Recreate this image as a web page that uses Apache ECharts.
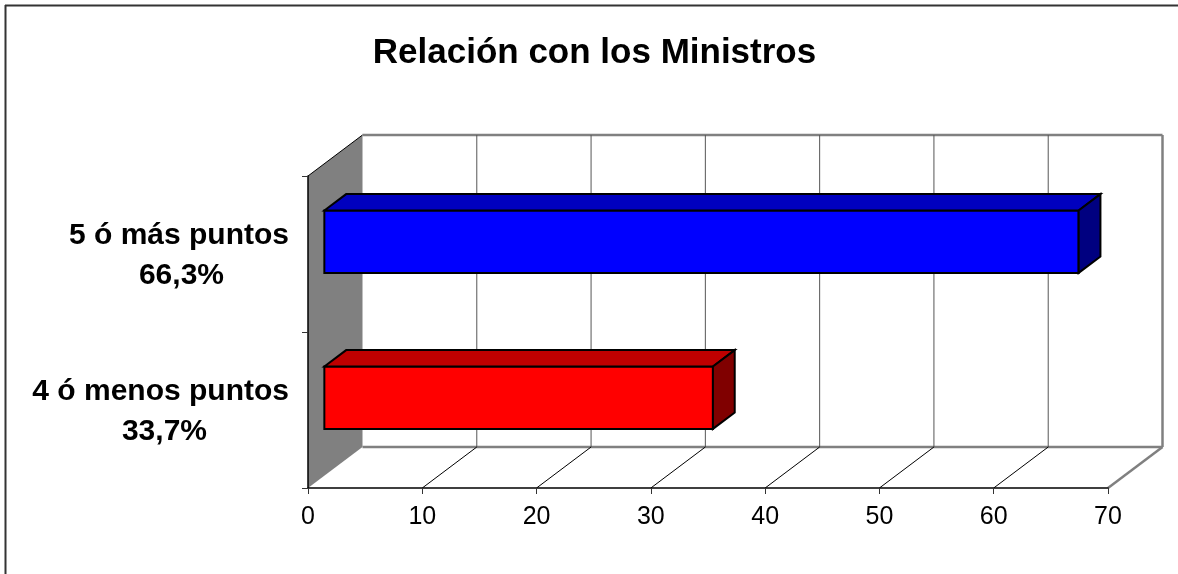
<!DOCTYPE html>
<html>
<head>
<meta charset="utf-8">
<style>html,body{margin:0;padding:0;background:#fff}#c{width:1178px;height:574px}</style>
<script src="https://cdn.jsdelivr.net/npm/echarts@6/dist/echarts.min.js"></script>
</head>
<body>
<div id="c"></div>
<script>
var categories = ['4 ó menos puntos', '5 ó más puntos'];
var shareLabels = ['33,7%', '66,3%'];
var values = [34, 66];
var faceColors = ['#ff0000', '#0000ff'];
var topColors = ['#bf0000', '#0000bf'];
var sideColors = ['#800000', '#000080'];
var xTicks = [0, 10, 20, 30, 40, 50, 60, 70];
var titleText = 'Relación con los Ministros';

var DX = 54.5, DY = -41;
var FONT = '"Liberation Sans", Arial, sans-serif';

var chart = echarts.init(document.getElementById('c'), null, {renderer: 'canvas'});

function line(x1, y1, x2, y2, color, width) {
  return {type: 'line', shape: {x1: x1, y1: y1, x2: x2, y2: y2},
    style: {stroke: color, lineWidth: width, fill: null}};
}
function poly(points, fill, stroke, width) {
  return {type: 'polygon', shape: {points: points},
    style: {fill: fill, stroke: stroke || null, lineWidth: width || 0, lineJoin: 'miter'}};
}

function renderBox(params, api) {
  var i = api.value(0);
  var v = api.value(1);
  var a = api.coord([0, i]);
  var b = api.coord([v, i]);
  var band = api.size([0, 1])[1];
  var h = band * 0.4;
  var f1 = 0.3, f2 = 0.7;
  var x0 = a[0] + DX * f1, x1 = b[0] + DX * f1;
  var y0 = a[1] + DY * f1 - h / 2, y1 = y0 + h;
  var ox = DX * (f2 - f1), oy = DY * (f2 - f1);
  var lw = 2;
  return {type: 'group', children: [
    poly([[x0, y0], [x1, y0], [x1, y1], [x0, y1]], faceColors[i], '#000', lw),
    poly([[x0, y0], [x0 + ox, y0 + oy], [x1 + ox, y0 + oy], [x1, y0]], topColors[i], '#000', lw),
    poly([[x1, y0], [x1 + ox, y0 + oy], [x1 + ox, y1 + oy], [x1, y1]], sideColors[i], '#000', lw)
  ]};
}

function renderWalls(params, api) {
  var zero = api.coord([0, 0]);
  var end = api.coord([70, 0]);
  var band = api.size([0, 1])[1];
  var bottom = zero[1] + band / 2;
  var top = bottom - band * 2;
  var l = zero[0], r = end[0];
  var kids = [
    poly([[l, bottom], [l + DX, bottom + DY], [l + DX, top + DY], [l, top]], '#808080'),
    line(l, top, l + DX, top + DY, '#000', 1),
    line(l + DX, top + DY, r + DX, top + DY, '#808080', 2.5),
    line(r + DX, top + DY, r + DX, bottom + DY, '#808080', 2.5),
    line(l + DX, bottom + DY, r + DX, bottom + DY, '#808080', 2.5),
    line(r, bottom, r + DX, bottom + DY, '#808080', 2.5)
  ];
  xTicks.slice(1, -1).forEach(function (t) {
    var p = api.coord([t, 0])[0];
    kids.push(line(p + DX, top + DY, p + DX, bottom + DY, '#555', 1));
    kids.push(line(p, bottom, p + DX, bottom + DY, '#000', 1));
  });
  return {type: 'group', children: kids};
}

function catLabel(value, idx) {
  return '{n|' + value + '}\n{p' + idx + '|' + shareLabels[idx] + '}';
}
var labelBase = {fontFamily: FONT, fontSize: 30, fontWeight: 'bold', color: '#000', lineHeight: 40, align: 'right'};

chart.setOption({
  animation: false,
  backgroundColor: '#fff',
  title: {text: titleText, left: 594.5, top: 36, padding: 0, textAlign: 'center',
    textStyle: {fontFamily: FONT, fontSize: 35, fontWeight: 'bold', color: '#000'}},
  graphic: [
    {type: 'line', shape: {x1: 5, y1: 5.5, x2: 1178, y2: 5.5}, style: {stroke: '#333', lineWidth: 2}},
    {type: 'line', shape: {x1: 5.5, y1: 5, x2: 5.5, y2: 574}, style: {stroke: '#333', lineWidth: 2}}
  ],
  grid: {left: 308, top: 176, width: 800, height: 312},
  xAxis: {type: 'value', min: 0, max: 70, interval: 10, z: 5,
    axisLine: {show: true, lineStyle: {color: '#000', width: 1.5}},
    axisTick: {show: true, length: 6, lineStyle: {color: '#333', width: 1}},
    splitLine: {show: false},
    axisLabel: {margin: 17, fontFamily: FONT, fontSize: 25, color: '#000', showMaxLabel: true, showMinLabel: true}},
  yAxis: {type: 'category', data: categories, z: 5,
    axisLine: {show: true, lineStyle: {color: '#000', width: 1.5}},
    axisTick: {show: true, length: 6, lineStyle: {color: '#333', width: 1}},
    splitLine: {show: false},
    axisLabel: {margin: 19, interval: 0, formatter: catLabel, align: 'right', padding: [3, 0, 0, 0], rich: {
      n: labelBase,
      p0: Object.assign({}, labelBase, {padding: [0, 82, 0, 0]}),
      p1: Object.assign({}, labelBase, {padding: [0, 65, 0, 0]})
    }}},
  series: [
    {type: 'custom', z: 1, silent: true, renderItem: renderWalls, data: [[0, 0]], encode: {x: 1, y: 0}, clip: false},
    {type: 'custom', z: 2, silent: true, renderItem: renderBox,
      data: values.map(function (v, i) { return [i, v]; }), encode: {x: 1, y: 0}, clip: false}
  ]
});
</script>
</body>
</html>
